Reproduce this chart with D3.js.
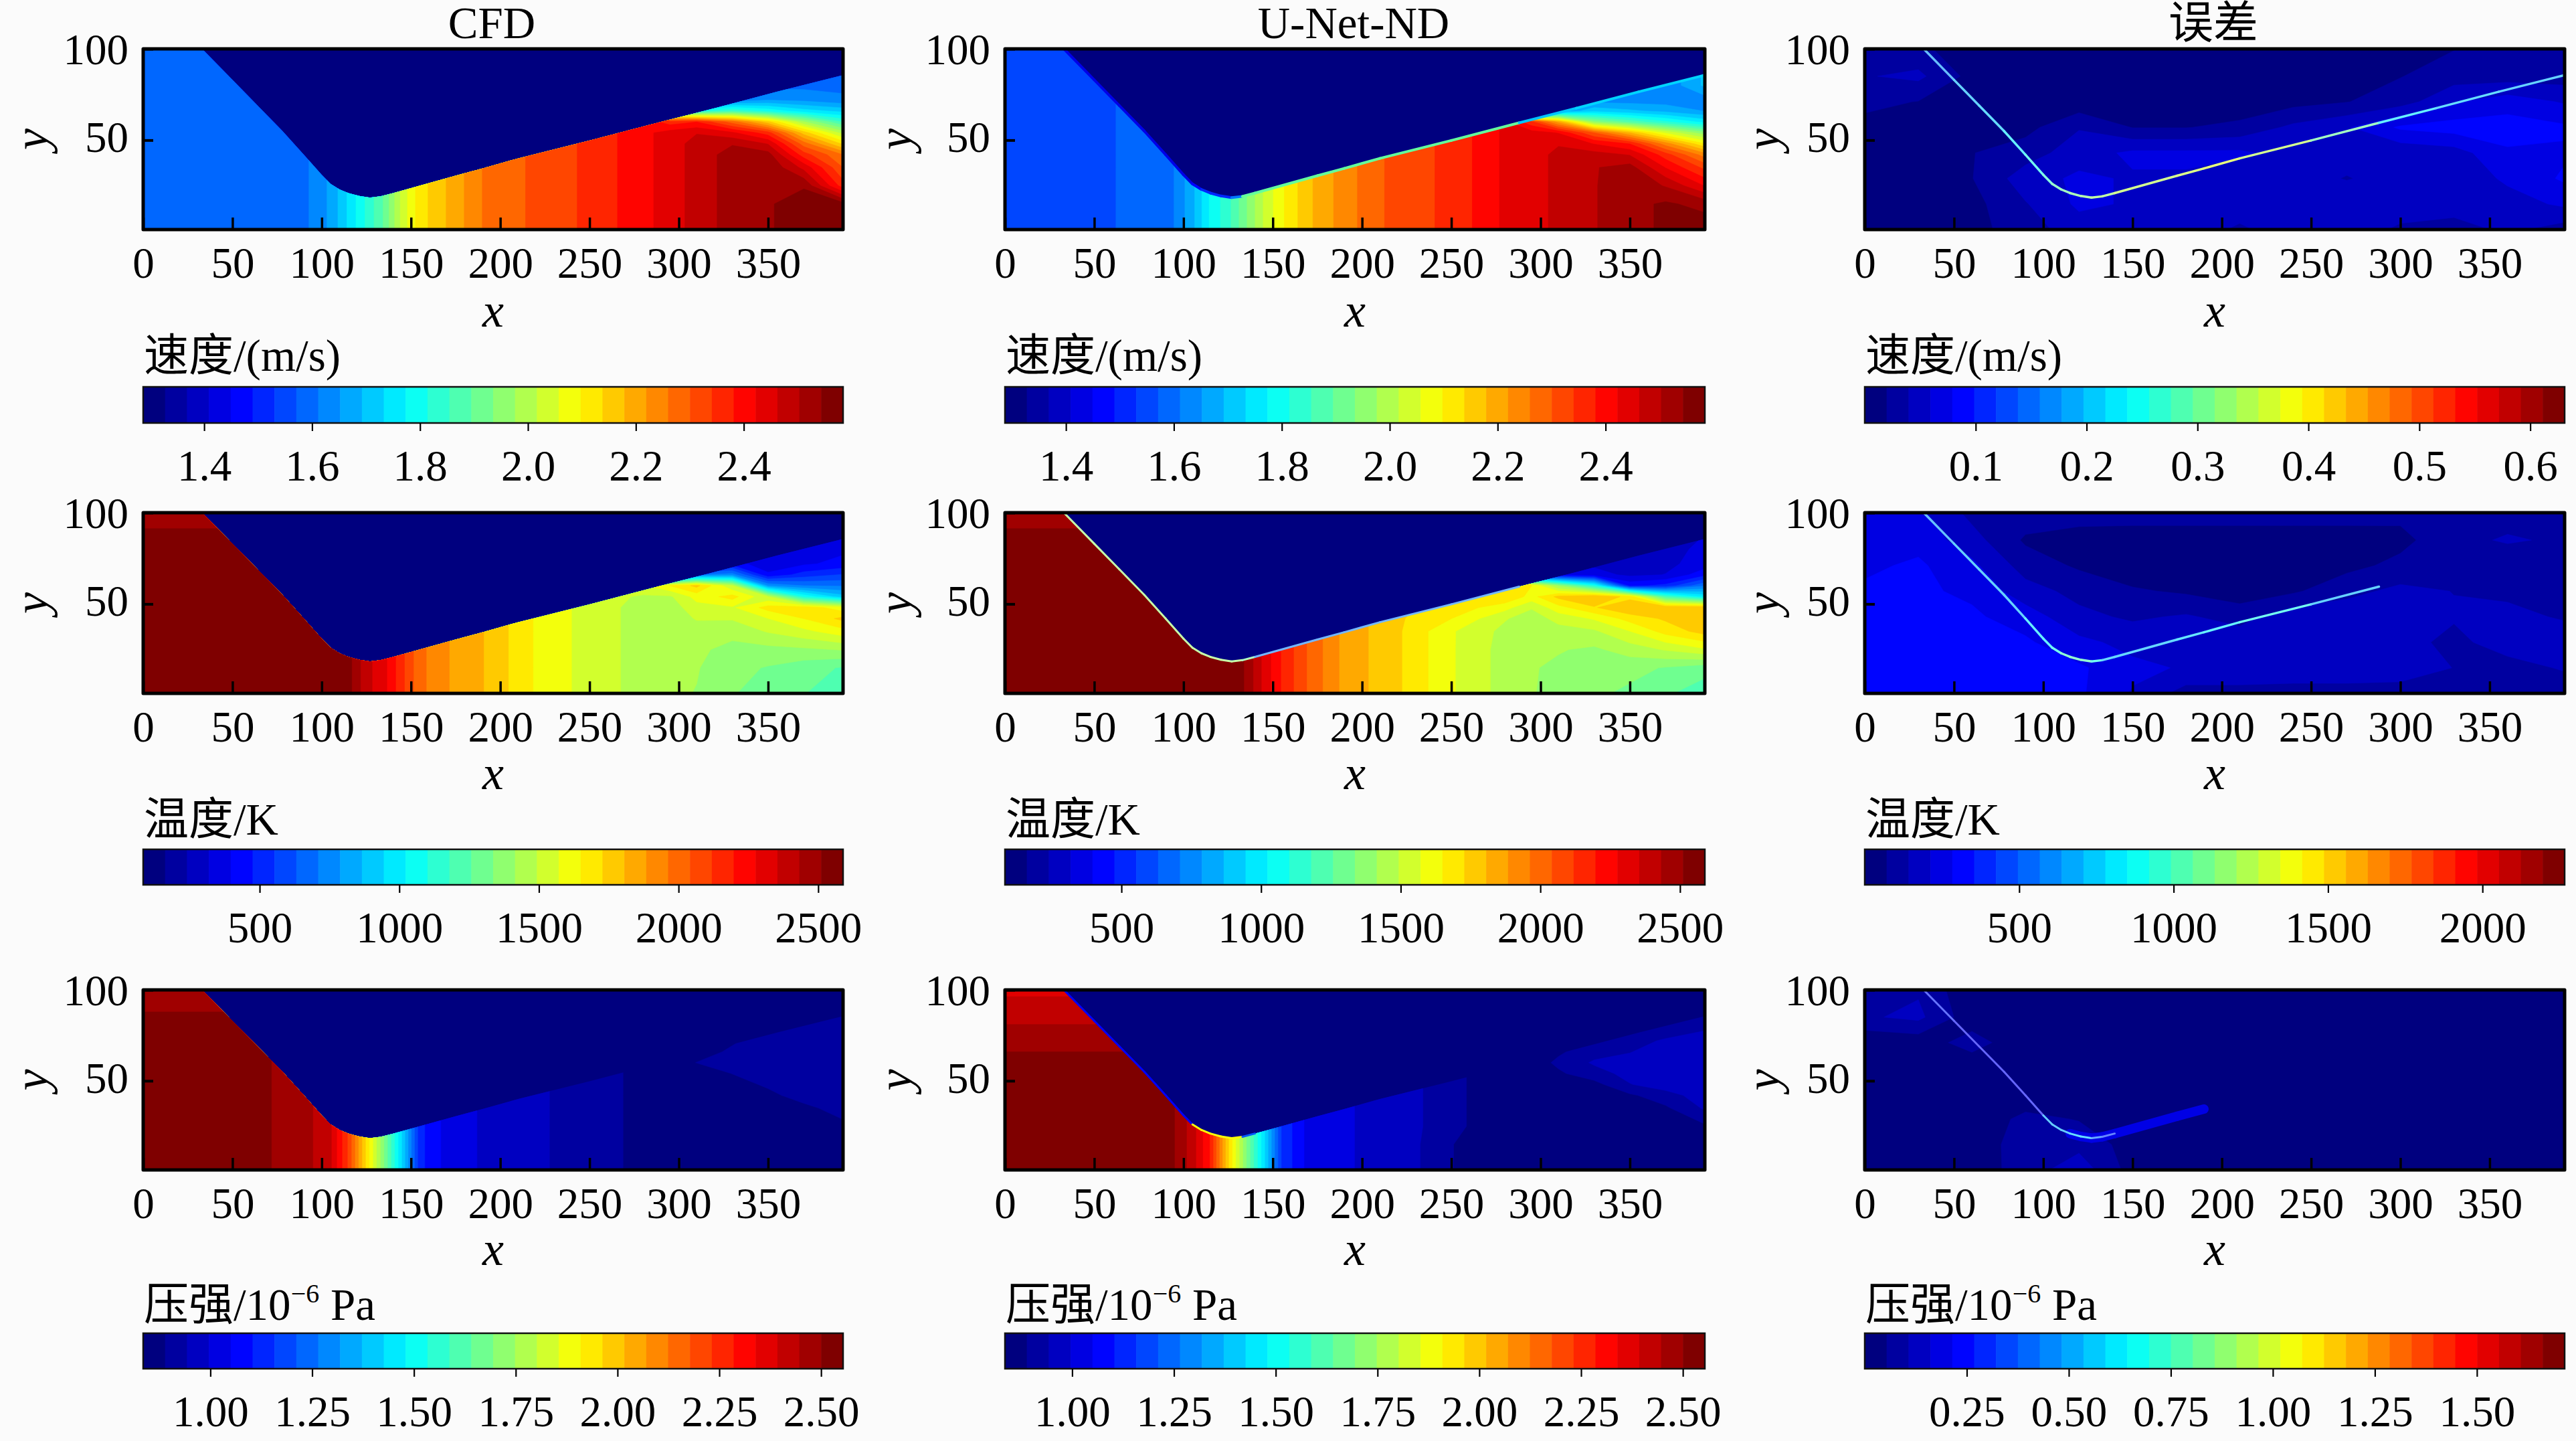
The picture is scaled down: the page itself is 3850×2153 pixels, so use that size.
<!DOCTYPE html>
<html><head><meta charset="utf-8">
<script src="https://cdn.jsdelivr.net/npm/d3@7/dist/d3.min.js"></script>
<style>html,body{margin:0;padding:0;background:#fbfbfb}svg{display:block}
text{font-family:"Liberation Serif","Noto Sans CJK SC",serif;fill:#000}</style>
</head><body><svg id="c" width="3850" height="2153"></svg>
<script>
const colTitles=["CFD","U-Net-ND","误差"];
const xTicks=[0,50,100,150,200,250,300,350];
const yTicks=[50,100];
const wallX=[0,33,50,64,78,90,100,105,110,115,121,127,133,140,175,190,210,250,288,320,355,392];
const wallY=[100,100,83,69,55,42,31,26,23,21,19.4,18.5,19.2,21,30.5,34.5,40,49.8,59.5,67.5,76.5,85.6];
const gridX=[0,60,90,105,115,125,135,145,155,170,190,220,250,280,295,310,330,350,370,392];
const gridY=[1,15,25,35,42,48,54,60,66,72,80,100];
const errX=[0,30,60,90,120,150,180,210,240,270,300,330,360,392];
const errY=[1,15,29,43,57,71,85,100];

const velCFD=[
[1.58,1.58,1.60,1.66,1.74,1.82,1.90,2.03,2.12,2.18,2.26,2.31,2.35,2.41,2.44,2.48,2.52,2.54,2.56,2.58],
[1.58,1.58,1.60,1.66,1.74,1.82,1.90,2.03,2.12,2.18,2.26,2.31,2.35,2.41,2.44,2.48,2.52,2.54,2.56,2.56],
[1.58,1.58,1.60,1.66,1.74,1.82,1.90,2.03,2.12,2.18,2.26,2.31,2.35,2.41,2.44,2.48,2.52,2.54,2.54,2.36],
[1.58,1.58,1.60,1.66,1.74,1.82,1.90,2.03,2.12,2.18,2.26,2.31,2.35,2.41,2.44,2.48,2.52,2.54,2.45,2.30],
[1.58,1.58,1.60,1.66,1.74,1.82,1.90,2.03,2.12,2.18,2.26,2.31,2.35,2.41,2.44,2.48,2.52,2.52,2.36,2.26],
[1.58,1.58,1.60,1.66,1.74,1.82,1.90,2.03,2.12,2.18,2.26,2.31,2.35,2.41,2.44,2.48,2.50,2.46,2.28,2.13],
[1.58,1.58,1.60,1.66,1.74,1.82,1.90,2.03,2.12,2.18,2.26,2.31,2.35,2.41,2.44,2.46,2.43,2.36,2.16,2.00],
[1.58,1.58,1.60,1.66,1.74,1.82,1.90,2.03,2.12,2.18,2.26,2.31,2.35,2.41,2.36,2.38,2.28,2.15,1.98,1.85],
[1.58,1.58,1.60,1.66,1.74,1.82,1.90,2.03,2.12,2.18,2.26,2.31,2.35,2.41,1.85,1.80,1.85,1.80,1.75,1.72],
[1.58,1.58,1.60,1.66,1.74,1.82,1.90,2.03,2.12,2.18,2.26,2.31,2.35,2.41,1.62,1.62,1.62,1.65,1.64,1.62],
[1.58,1.58,1.60,1.66,1.74,1.82,1.90,2.03,2.12,2.18,2.26,2.31,2.35,2.41,1.60,1.60,1.60,1.60,1.60,1.60],
[1.58,1.58,1.60,1.66,1.74,1.82,1.90,2.03,2.12,2.18,2.26,2.31,2.35,2.41,1.58,1.58,1.58,1.58,1.58,1.58]];

const velUNet=[
[1.57,1.57,1.58,1.68,1.78,1.84,1.93,2.02,2.09,2.17,2.24,2.32,2.35,2.43,2.45,2.47,2.50,2.53,2.55,2.57],
[1.57,1.57,1.58,1.68,1.78,1.84,1.93,2.02,2.09,2.17,2.24,2.32,2.35,2.43,2.45,2.47,2.50,2.53,2.55,2.53],
[1.57,1.57,1.58,1.68,1.78,1.84,1.93,2.02,2.09,2.17,2.24,2.32,2.35,2.43,2.45,2.47,2.50,2.53,2.50,2.42],
[1.57,1.57,1.58,1.68,1.78,1.84,1.93,2.02,2.09,2.17,2.24,2.32,2.35,2.43,2.45,2.47,2.50,2.52,2.42,2.33],
[1.57,1.57,1.58,1.68,1.78,1.84,1.93,2.02,2.09,2.17,2.24,2.32,2.35,2.43,2.45,2.47,2.48,2.46,2.36,2.24],
[1.57,1.57,1.58,1.68,1.78,1.84,1.93,2.02,2.09,2.17,2.24,2.32,2.35,2.43,2.45,2.46,2.42,2.38,2.24,2.10],
[1.57,1.57,1.58,1.68,1.78,1.84,1.93,2.02,2.09,2.17,2.24,2.32,2.35,2.43,2.44,2.42,2.30,2.18,2.05,1.95],
[1.57,1.57,1.58,1.68,1.78,1.84,1.93,2.02,2.09,2.17,2.24,2.32,2.35,2.43,2.35,2.20,1.95,1.88,1.82,1.76],
[1.57,1.57,1.58,1.68,1.78,1.84,1.93,2.02,2.09,2.17,2.24,2.32,2.35,2.43,1.55,1.65,1.72,1.70,1.68,1.65],
[1.57,1.57,1.58,1.68,1.78,1.84,1.93,2.02,2.09,2.17,2.24,2.32,2.35,2.43,1.50,1.60,1.63,1.63,1.63,1.63],
[1.57,1.57,1.58,1.68,1.78,1.84,1.93,2.02,2.09,2.17,2.24,2.32,2.35,2.43,1.50,1.60,1.60,1.60,1.62,1.70],
[1.57,1.57,1.58,1.68,1.78,1.84,1.93,2.02,2.09,2.17,2.24,2.32,2.35,2.43,1.50,1.60,1.60,1.60,1.62,1.70]];

const tempCFD=[
[2589,2589,2589,2589,2540,2380,2300,2140,1985,1890,1810,1640,1536,1461,1430,1411,1340,1310,1261,1211],
[2589,2589,2589,2589,2540,2380,2300,2140,1985,1890,1810,1640,1536,1461,1430,1420,1360,1330,1290,1250],
[2589,2589,2589,2589,2540,2380,2300,2140,1985,1890,1810,1640,1536,1461,1430,1430,1390,1390,1400,1420],
[2589,2589,2589,2589,2540,2380,2300,2140,1985,1890,1810,1640,1536,1461,1430,1450,1440,1500,1550,1620],
[2589,2589,2589,2589,2540,2380,2300,2140,1985,1890,1810,1640,1536,1461,1440,1500,1500,1570,1650,1750],
[2589,2589,2589,2589,2540,2380,2300,2140,1985,1890,1810,1640,1536,1461,1450,1540,1560,1680,1700,1600],
[2589,2589,2589,2589,2540,2380,2300,2140,1985,1890,1810,1640,1536,1480,1480,1600,1680,1500,1085,900],
[2589,2589,2589,2589,2540,2380,2300,2140,1985,1890,1810,1640,1536,1560,1650,1750,1500,780,710,700],
[2589,2589,2589,2589,2540,2380,2300,2140,1985,1890,1810,1640,1536,1560,500,700,750,410,510,560],
[2589,2589,2589,2589,2540,2380,2300,2140,1985,1890,1810,1640,1536,1560,350,450,430,350,384,420],
[2589,2589,2589,2589,2540,2380,2300,2140,1985,1890,1810,1640,1536,1560,300,300,300,300,330,380],
[2450,2450,2589,2589,2540,2380,2300,2140,1985,1890,1810,1640,1536,1560,300,300,300,300,300,330]];

const tempUNet=[
[2589,2589,2589,2589,2589,2589,2500,2330,2190,2030,1860,1740,1580,1460,1420,1386,1350,1320,1270,1211],
[2589,2589,2589,2589,2589,2589,2500,2330,2190,2030,1860,1740,1580,1460,1420,1400,1370,1360,1330,1290],
[2589,2589,2589,2589,2589,2589,2500,2330,2190,2030,1860,1740,1580,1460,1420,1420,1400,1450,1500,1560],
[2589,2589,2589,2589,2589,2589,2500,2330,2190,2030,1860,1740,1580,1470,1430,1460,1480,1570,1680,1760],
[2589,2589,2589,2589,2589,2589,2500,2330,2190,2030,1860,1740,1650,1500,1450,1520,1580,1680,1740,1780],
[2589,2589,2589,2589,2589,2589,2500,2330,2190,2030,1860,1740,1700,1600,1500,1620,1720,1800,1800,1800],
[2589,2589,2589,2589,2589,2589,2500,2330,2190,2030,1860,1740,1700,1720,1620,1750,1800,1700,1200,1000],
[2589,2589,2589,2589,2589,2589,2500,2330,2190,2030,1860,1740,1700,1720,1650,1400,1100,450,500,700],
[2589,2589,2589,2589,2589,2589,2500,2330,2190,2030,1860,1740,1700,1720,500,380,350,300,320,450],
[2589,2589,2589,2589,2589,2589,2500,2330,2190,2030,1860,1740,1700,1720,300,300,300,280,300,350],
[2589,2589,2589,2589,2589,2589,2500,2330,2190,2030,1860,1740,1700,1720,300,300,300,280,300,330],
[2450,2450,2589,2589,2589,2589,2500,2330,2190,2030,1860,1740,1700,1720,300,300,300,280,300,300]];

const presCFD=[
[2.52,2.52,2.47,2.40,2.22,1.95,1.69,1.42,1.12,1.03,.99,.95,.92,.87,.86,.85,.85,.85,.85,.85],
[2.52,2.52,2.47,2.40,2.22,1.95,1.69,1.42,1.12,1.03,.99,.95,.92,.87,.86,.85,.85,.85,.85,.85],
[2.52,2.52,2.47,2.40,2.22,1.95,1.69,1.42,1.12,1.03,.99,.95,.92,.87,.86,.85,.85,.85,.85,.87],
[2.52,2.52,2.47,2.40,2.22,1.95,1.69,1.42,1.12,1.03,.99,.95,.92,.87,.86,.85,.85,.85,.87,.92],
[2.52,2.52,2.47,2.40,2.22,1.95,1.69,1.42,1.12,1.03,.99,.95,.92,.87,.86,.85,.85,.87,.92,.92],
[2.52,2.52,2.47,2.40,2.22,1.95,1.69,1.42,1.12,1.03,.99,.95,.92,.87,.86,.85,.86,.90,.92,.93],
[2.52,2.52,2.47,2.40,2.22,1.95,1.69,1.42,1.12,1.03,.99,.95,.92,.87,.86,.85,.89,.92,.93,.93],
[2.52,2.52,2.47,2.40,2.22,1.95,1.69,1.42,1.12,1.03,.99,.95,.92,.87,.86,.89,.92,.93,.93,.93],
[2.52,2.52,2.47,2.40,2.22,1.95,1.69,1.42,1.12,1.03,.99,.95,.92,.87,.86,.86,.90,.92,.93,.93],
[2.52,2.52,2.47,2.40,2.22,1.95,1.69,1.42,1.12,1.03,.99,.95,.92,.87,.85,.85,.88,.92,.92,.93],
[2.52,2.52,2.47,2.40,2.22,1.95,1.69,1.42,1.12,1.03,.99,.95,.92,.87,.85,.85,.85,.88,.90,.92],
[2.47,2.47,2.47,2.40,2.22,1.95,1.69,1.42,1.12,1.03,.99,.95,.92,.87,.85,.85,.85,.85,.85,.85]];

const presUNet=[
[2.54,2.54,2.54,2.42,2.28,1.97,1.70,1.44,1.15,1.03,1.00,.98,.89,.86,.86,.86,.86,.86,.86,.86],
[2.54,2.54,2.54,2.42,2.28,1.97,1.70,1.44,1.15,1.03,1.00,.98,.89,.86,.86,.86,.86,.86,.86,.86],
[2.54,2.54,2.54,2.42,2.28,1.97,1.70,1.44,1.15,1.03,1.00,.98,.90,.86,.86,.86,.86,.86,.86,.88],
[2.54,2.54,2.54,2.42,2.28,1.97,1.70,1.44,1.15,1.03,1.00,.98,.90,.86,.86,.86,.86,.86,.88,.95],
[2.54,2.54,2.54,2.42,2.28,1.97,1.70,1.44,1.15,1.03,1.00,.98,.90,.86,.86,.86,.86,.88,.92,.97],
[2.54,2.54,2.54,2.42,2.28,1.97,1.70,1.44,1.15,1.03,1.00,.98,.90,.86,.86,.86,.87,.94,.97,.97],
[2.54,2.54,2.54,2.42,2.28,1.97,1.70,1.44,1.15,1.03,1.00,.98,.90,.86,.86,.88,.92,.96,.97,.97],
[2.54,2.54,2.54,2.42,2.28,1.97,1.70,1.44,1.15,1.03,1.00,.98,.90,.86,.86,.90,.95,.96,.97,.97],
[2.50,2.50,2.50,2.42,2.28,1.97,1.70,1.44,1.15,1.03,1.00,.98,.90,.86,.86,.88,.92,.94,.97,.97],
[2.47,2.47,2.45,2.42,2.28,1.97,1.70,1.44,1.15,1.03,1.00,.98,.90,.86,.86,.86,.88,.92,.95,.97],
[2.45,2.45,2.42,2.42,2.28,1.97,1.70,1.44,1.15,1.03,1.00,.98,.90,.86,.86,.86,.86,.87,.90,.93],
[2.38,2.38,2.42,2.42,2.28,1.97,1.70,1.44,1.15,1.03,1.00,.98,.90,.86,.86,.86,.86,.86,.86,.86]];

const velErr=[
[.013,.013,.013,.03,.05,.05,.044,.038,.044,.044,.038,.03,.044,.03],
[.013,.013,.013,.038,.063,.057,.057,.044,.05,.057,.044,.05,.05,.063],
[.013,.013,.019,.05,.063,.057,.057,.044,.05,.038,.05,.044,.063,.082],
[.019,.013,.019,.03,.05,.063,.063,.063,.05,.05,.044,.05,.076,.076],
[.013,.013,.013,.013,.038,.019,.019,.025,.044,.057,.082,.088,.088,.082],
[.025,.019,.013,.006,.006,.006,.006,.006,.013,.019,.03,.057,.07,.057],
[.038,.044,.013,.006,.006,.006,.006,.006,.006,.006,.019,.03,.03,.03],
[.03,.025,.006,.006,.006,.006,.006,.006,.006,.006,.006,.019,.038,.025]];

const tempErr=[
[295,295,295,295,295,205,110,110,110,110,110,110,90,90],
[295,295,295,295,295,230,205,205,190,190,180,140,110,150],
[295,295,295,295,230,190,190,190,190,190,170,120,180,200],
[295,295,295,250,160,130,150,113,190,190,170,150,170,130],
[295,295,270,170,120,80,60,30,60,120,160,140,120,100],
[270,295,230,110,60,23,23,23,23,50,90,110,90,110],
[250,260,170,60,30,23,23,23,23,23,50,120,150,130],
[250,230,120,113,113,113,113,113,113,113,90,120,110,90]];

const presErr=[
[.01,.01,.02,.08,.14,.03,.02,.02,.02,.02,.02,.02,.02,.02],
[.01,.01,.01,.09,.09,.03,.02,.02,.02,.02,.02,.02,.02,.02],
[.01,.01,.01,.07,.05,.03,.02,.02,.02,.02,.02,.02,.02,.02],
[.01,.01,.01,.01,.01,.01,.01,.01,.01,.01,.01,.02,.02,.02],
[.01,.01,.01,.01,.01,.01,.01,.01,.01,.01,.01,.02,.02,.02],
[.01,.02,.08,.01,.01,.01,.01,.01,.01,.01,.01,.01,.01,.01],
[.10,.12,.02,.01,.01,.01,.01,.01,.01,.01,.01,.01,.01,.01],
[.10,.10,.01,.01,.01,.01,.01,.01,.01,.01,.01,.01,.01,.01]];

// value along each wall vertex (null = no line)
const velErrLine=[null,.13,.17,.19,.2,.22,.25,.27,.29,.3,.31,.32,.33,.33,.35,.36,.37,.35,.3,.22,.2,.19];
const tempErrLine=[null,570,620,680,680,680,790,800,900,1000,1020,1020,900,700,700,750,800,900,680,null,null,null];
const presErrLine=[null,.5,.25,.2,.2,.2,.22,.5,.5,.5,.55,.55,.4,.3,null,null,null,null,null,null,null,null];
const presErrBand=[null,null,null,null,null,null,null,null,null,.17,.17,.17,.17,.17,.17,.17,null,null,null,null,null,null];
const velEdgeU=[null,1.42,1.42,1.42,1.42,1.42,1.42,1.42,1.45,1.5,1.5,1.5,1.6,1.9,1.9,1.9,1.9,1.9,1.9,1.7,1.72,1.72];
const tempEdgeU=[null,1400,1400,1400,1400,1400,1400,1400,1400,1400,1400,1400,1400,1300,700,700,700,700,700,null,null,null];
const presEdgeU=[null,1.05,1.05,1.05,1.05,1.05,1.05,1.05,1.9,1.9,1.9,1.9,1.9,1.2,null,null,null,null,null,null,null,null];

const velTitle=[{t:"速度/(m/s)"}];
const tempTitle=[{t:"温度/K"}];
const presTitle=[{t:"压强/10"},{t:"−6",sup:1},{t:" Pa"}];
const cbTicks=[
 [[1.4,1.6,1.8,2.0,2.2,2.4],[1.4,1.6,1.8,2.0,2.2,2.4],[.1,.2,.3,.4,.5,.6]],
 [[500,1000,1500,2000,2500],[500,1000,1500,2000,2500],[500,1000,1500,2000]],
 [[1,1.25,1.5,1.75,2,2.25,2.5],[1,1.25,1.5,1.75,2,2.25,2.5],[.25,.5,.75,1,1.25,1.5]]];
const cbDomains=[
 [[1.287,2.584],[1.287,2.584],[0,.631]],
 [[83,2589],[83,2589],[0,2266]],
 [[.835,2.554],[.835,2.554],[0,1.715]]];
const cbFormats=[[".1f",".1f",".1f"],["d","d","d"],[".2f",".2f",".2f"]];

const colLeft=[214,1502,2787], plotW=1046;
const rowLay=[{top:73,bot:343,cbTop:578,cbBot:632,xl:145,ct:24},
              {top:766,bot:1036,cbTop:1269,cbBot:1322,xl:143,ct:22},
              {top:1479,bot:1748,cbTop:1992,cbBot:2045,xl:142,ct:20}];
const yLabOff=[-143,-140,-128];
const FS=65,N=32;

const jet=d3.scaleLinear().domain([0,.125,.375,.625,.875,1])
  .range(["#00007f","#0000ff","#00ffff","#ffff00","#ff0000","#7f0000"]).clamp(true);
const bandColor=i=>jet(i/(N-1));

const panels=[
 [{g:velCFD,clip:1,title:velTitle},{g:velUNet,clip:1,title:velTitle,edge:velEdgeU,ew:4},{g:velErr,err:1,title:velTitle,line:velErrLine,lw:3.5}],
 [{g:tempCFD,clip:1,title:tempTitle},{g:tempUNet,clip:1,title:tempTitle,edge:tempEdgeU,ew:3,pale:.45},{g:tempErr,err:1,title:tempTitle,line:tempErrLine,lw:3.5}],
 [{g:presCFD,clip:1,title:presTitle},{g:presUNet,clip:1,title:presTitle,edge:presEdgeU,ew:3},{g:presErr,err:1,title:presTitle,line:presErrLine,lw:3,band:presErrBand}]];

const svg=d3.select("#c");
svg.append("rect").attr("width",3850).attr("height",2153).attr("fill","#fbfbfb");
const defs=svg.append("defs");

panels.forEach((row,r)=>row.forEach((p,c)=>{
  const L=colLeft[c],lay=rowLay[r],dom=cbDomains[r][c];
  const xS=d3.scaleLinear().domain([0,392]).range([L,L+plotW]);
  const yS=d3.scaleLinear().domain([1,100]).range([lay.bot,lay.top]);
  const gx=p.err?errX:gridX, gy=p.err?errY:gridY;
  const ix=d3.scaleLinear().domain(gx.map((_,i)=>i+.5)).range(gx).clamp(true);
  const iy=d3.scaleLinear().domain(gy.map((_,i)=>i+.5)).range(gy).clamp(true);
  const proj=d3.geoTransform({point(a,b){this.stream.point(xS(ix(a)),yS(iy(b)));}});
  const path=d3.geoPath(proj);
  const step=(dom[1]-dom[0])/N;
  const th=d3.range(1,N).map(i=>dom[0]+i*step);
  const flat=p.g.flat();
  const conts=d3.contours().size([gx.length,gy.length]).thresholds(th)(flat);
  const g=svg.append("g");
  const id=`p${r}${c}`;
  const cp=defs.append("clipPath").attr("id",id);
  if(p.clip){
    const poly=wallX.map((x,i)=>[x,wallY[i]]).concat([[392,1],[0,1]]);
    cp.append("path").attr("d",d3.line().x(d=>xS(d[0])).y(d=>yS(d[1]))(poly)+"Z");
  } else cp.append("rect").attr("x",L).attr("y",lay.top).attr("width",plotW).attr("height",lay.bot-lay.top);
  g.append("rect").attr("x",L).attr("y",lay.top).attr("width",plotW).attr("height",lay.bot-lay.top).attr("fill",bandColor(0));
  g.append("g").attr("clip-path",`url(#${id})`).selectAll("path").data(conts).join("path")
    .attr("d",path).attr("fill",(d,i)=>bandColor(i+1)).attr("stroke",(d,i)=>bandColor(i+1)).attr("stroke-width",.6);

  const wallLine=(vals,w,pale)=>{
    const segs=d3.range(wallX.length-1).filter(i=>vals[i]!=null&&vals[i+1]!=null);
    const t=d3.scaleLinear().domain(dom).range([0,1]);
    g.append("g").selectAll("line").data(segs).join("line")
      .attr("x1",i=>xS(wallX[i])).attr("y1",i=>yS(wallY[i]))
      .attr("x2",i=>xS(wallX[i+1])).attr("y2",i=>yS(wallY[i+1]))
      .attr("stroke",i=>d3.interpolateRgb(jet(t(vals[i+1])),"#fff")(pale||0))
      .attr("stroke-width",w).attr("stroke-linecap","round");
  };
  if(p.band) wallLine(p.band,14,0);
  if(p.line) wallLine(p.line,p.lw,.4);
  if(p.edge) wallLine(p.edge,p.ew,p.pale||0);

  // frame
  g.append("rect").attr("x",L).attr("y",lay.top).attr("width",plotW).attr("height",lay.bot-lay.top)
    .attr("fill","none").attr("stroke","#000").attr("stroke-width",5).attr("stroke-linejoin","round");
  // x axis
  const ax=svg.append("g").attr("transform",`translate(0,${lay.bot})`)
    .call(d3.axisBottom(xS).tickValues(xTicks).tickSizeInner(-18).tickSizeOuter(0));
  ax.select(".domain").remove();
  ax.selectAll("line").attr("stroke","#000").attr("stroke-width",3.5);
  ax.selectAll("text").attr("y",72).attr("dy",0).attr("font-size",FS).attr("fill","#000");
  // y axis
  const ay=svg.append("g").attr("transform",`translate(${L},0)`)
    .call(d3.axisLeft(yS).tickValues(yTicks).tickSizeInner(-15).tickSizeOuter(0));
  ay.select(".domain").remove();
  ay.selectAll("line").attr("stroke","#000").attr("stroke-width",4);
  ay.selectAll("text").attr("x",-22).attr("dy",".27em").attr("font-size",FS).attr("fill","#000");
  ay.selectAll(".tick").filter(d=>d===100).select("text").attr("dy",".34em");
  // axis labels
  svg.append("text").attr("x",L+plotW/2).attr("y",lay.bot+lay.xl).attr("text-anchor","middle")
    .attr("font-style","italic").attr("font-size",72).text("x");
  svg.append("text").attr("transform",`translate(${L+yLabOff[c]},${(lay.top+lay.bot)/2}) rotate(-90)`)
    .attr("text-anchor","middle").attr("font-style","italic").attr("font-size",72).text("y");
  if(r===0) svg.append("text").attr("x",L+plotW/2-2).attr("y",57).attr("text-anchor","middle")
    .attr("font-size",67).text(colTitles[c]);

  // colourbar
  const cS=d3.scaleLinear().domain(dom).range([L,L+plotW]);
  const cbG=svg.append("g");
  cbG.selectAll("rect").data(d3.range(N)).join("rect")
    .attr("x",i=>cS(dom[0]+i*step)).attr("width",plotW/N+.6)
    .attr("y",lay.cbTop).attr("height",lay.cbBot-lay.cbTop).attr("fill",i=>bandColor(i));
  cbG.append("rect").attr("x",L).attr("y",lay.cbTop).attr("width",plotW).attr("height",lay.cbBot-lay.cbTop)
    .attr("fill","none").attr("stroke","#111").attr("stroke-width",2.5);
  const ac=svg.append("g").attr("transform",`translate(0,${lay.cbBot})`)
    .call(d3.axisBottom(cS).tickValues(cbTicks[r][c]).tickSizeInner(12).tickSizeOuter(0).tickFormat(d3.format(cbFormats[r][c])));
  ac.select(".domain").remove();
  ac.selectAll("line").attr("stroke","#000").attr("stroke-width",2.2);
  ac.selectAll("text").attr("y",86).attr("dy",0).attr("font-size",FS).attr("fill","#000");
  const tt=svg.append("text").attr("x",L+1).attr("y",lay.cbTop-lay.ct).attr("font-size",67);
  p.title.forEach(s=>{
    const sp=tt.append("tspan").text(s.t);
    if(s.sup) sp.attr("font-size",40).attr("dy",-26);
    else if(tt.selectAll("tspan").size()>1) sp.attr("dy",26);
  });
}));
</script></body></html>
